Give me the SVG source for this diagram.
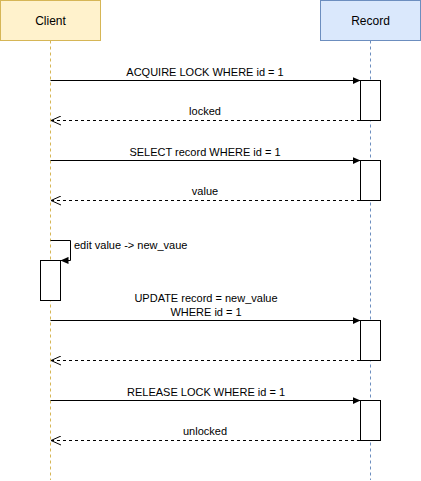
<svg xmlns="http://www.w3.org/2000/svg" width="421" height="481" viewBox="0 0 421 481">
<defs>
<style>
text{font-family:"Liberation Sans",Arial,sans-serif;font-size:11px;fill:#000}
.t12{font-size:12px}
.msg{stroke:#000;stroke-width:1;fill:none}
.ret{stroke:#000;stroke-width:1;fill:none;stroke-dasharray:3 3}
.act{fill:#fff;stroke:#000;stroke-width:1}
</style>
<marker id="block" viewBox="0 0 10 10" refX="10" refY="5" markerWidth="8" markerHeight="8" markerUnits="userSpaceOnUse" orient="auto">
<path d="M0,0.5 L10,5 L0,9.5 Z" fill="#000"/>
</marker>
<marker id="open" viewBox="0 0 10 10" refX="10" refY="5" markerWidth="10" markerHeight="10" markerUnits="userSpaceOnUse" orient="auto-start-reverse">
<path d="M0,0.5 L10,5 L0,9.5" fill="none" stroke="#000" stroke-width="1"/>
</marker>
</defs>
<rect width="421" height="481" fill="#fff"/>
<g id="client">
<rect x="0.5" y="0.5" width="100" height="40" fill="#fff2cc" stroke="#d6b656"/>
<text class="t12" x="50.5" y="25" text-anchor="middle">Client</text>
<line x1="50.5" y1="40.5" x2="50.5" y2="480" stroke="#d6b656" stroke-dasharray="3 3"/>
</g>
<g id="record">
<rect x="320.5" y="0.5" width="100" height="40" fill="#dae8fc" stroke="#6c8ebf"/>
<text class="t12" x="370.5" y="25" text-anchor="middle">Record</text>
<line x1="370.5" y1="40.5" x2="370.5" y2="480" stroke="#6c8ebf" stroke-dasharray="3 3"/>
</g>
<g id="activations">
<rect class="act" x="360.5" y="80.5" width="20" height="40"/>
<rect class="act" x="360.5" y="160.5" width="20" height="40"/>
<rect class="act" x="360.5" y="320.5" width="20" height="40"/>
<rect class="act" x="360.5" y="400.5" width="20" height="40"/>
<rect class="act" x="40.5" y="260.5" width="20" height="40"/>
</g>
<g id="connectors">
<line class="msg" x1="50.5" y1="80.5" x2="360.5" y2="80.5" marker-end="url(#block)"/>
<line class="ret" x1="51" y1="120.5" x2="360.5" y2="120.5" marker-start="url(#open)"/>
<line class="msg" x1="50.5" y1="160.5" x2="360.5" y2="160.5" marker-end="url(#block)"/>
<line class="ret" x1="51" y1="200.5" x2="360.5" y2="200.5" marker-start="url(#open)"/>
<path class="msg" d="M50.5,240.5 H70.5 V260.5 H60.5" marker-end="url(#block)"/>
<line class="msg" x1="50.5" y1="320.5" x2="360.5" y2="320.5" marker-end="url(#block)"/>
<line class="ret" x1="51" y1="360.5" x2="360.5" y2="360.5" marker-start="url(#open)"/>
<line class="msg" x1="50.5" y1="400.5" x2="360.5" y2="400.5" marker-end="url(#block)"/>
<line class="ret" x1="51" y1="440.5" x2="360.5" y2="440.5" marker-start="url(#open)"/>
</g>
<g id="labels">
<text x="205" y="76" text-anchor="middle">ACQUIRE LOCK WHERE id = 1</text>
<text x="205" y="115" text-anchor="middle">locked</text>
<text x="205" y="156" text-anchor="middle">SELECT record WHERE id = 1</text>
<text x="205" y="195" text-anchor="middle">value</text>
<text x="74" y="249">edit value -&gt; new_vaue</text>
<text x="206" y="302" text-anchor="middle">UPDATE record = new_value</text>
<text x="206" y="316" text-anchor="middle">WHERE id = 1</text>
<text x="206" y="396" text-anchor="middle">RELEASE LOCK WHERE id = 1</text>
<text x="205" y="435" text-anchor="middle">unlocked</text>
</g>
</svg>
